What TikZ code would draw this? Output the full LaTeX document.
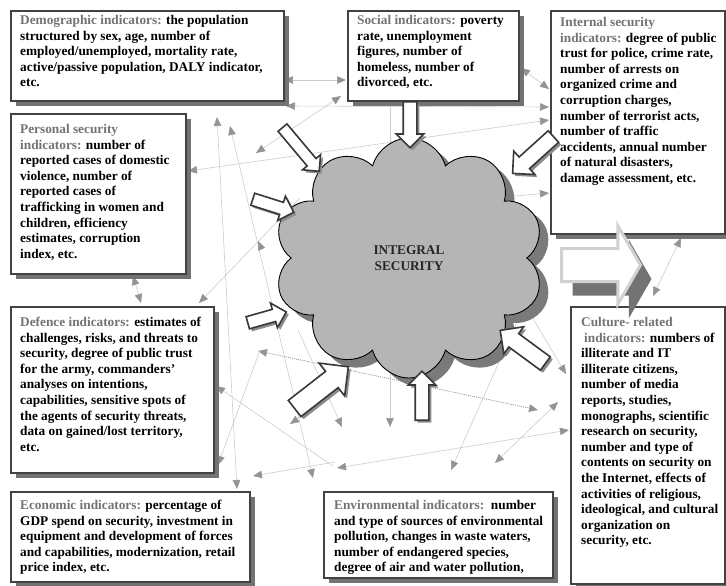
\documentclass[tikz,border=0pt]{standalone}
\usepackage{fontspec}
\setmainfont{Liberation Serif}
\usetikzlibrary{shapes.symbols,shapes.arrows,shadows,arrows.meta}

\definecolor{hdr}{gray}{0.45}
\definecolor{cloudfill}{gray}{0.71}
\definecolor{cloudshade}{gray}{0.48}
\definecolor{webline}{gray}{0.80}
\definecolor{webtip}{gray}{0.58}
\definecolor{frame}{gray}{0.26}
\definecolor{frameshade}{gray}{0.45}
\definecolor{outline}{gray}{0.22}

\newcommand\indhead[1]{{\color{hdr}#1}}

\begin{document}
\begin{tikzpicture}[x=1pt,y=-1pt,
  ibox/.style={draw=frame, line width=2.2pt, fill=white, anchor=north west,
    inner sep=0pt, drop shadow={shadow xshift=4.5pt, shadow yshift=-4.5pt,
    fill=frameshade, opacity=1}},
  itext/.style={anchor=north west, inner sep=0pt, align=left,
    font=\fontsize{13.3}{15.6}\selectfont\bfseries},
  web/.style={draw=webline, line width=0.6pt,
    {Triangle[length=9pt,width=7.5pt,color=webtip]}-{Triangle[length=9pt,width=7.5pt,color=webtip]}},
  webone/.style={draw=webline, line width=0.6pt,
    -{Triangle[length=9pt,width=7.5pt,color=webtip]}},
  webdot/.style={draw=black!45, line width=0.7pt, dash pattern=on 1pt off 1pt,
    {Triangle[length=9pt,width=7.5pt,color=webtip]}-{Triangle[length=9pt,width=7.5pt,color=webtip]}},
  barrow/.style={single arrow, draw=outline, line width=1.6pt, fill=white,
    inner xsep=0pt, single arrow tip angle=90, anchor=tail,
    drop shadow={shadow xshift=2.5pt, shadow yshift=-2.5pt, fill=black!45, opacity=1}},
]
\useasboundingbox (0,0) rectangle (726,586);

% ---------- end points of the thin connector web ----------
\coordinate (c1a) at (284,80);   \coordinate (c1b) at (346,80);
\coordinate (c2a) at (286,106);  \coordinate (c2b) at (549,107);
\coordinate (c3a) at (256,153);  \coordinate (c3b) at (341,96);
\coordinate (c4a) at (521,68);   \coordinate (c4b) at (549,89);
\coordinate (c5a) at (188,171);  \coordinate (c5b) at (549,120);
\coordinate (c6a) at (217,117);  \coordinate (c6b) at (237,489);
\coordinate (c7a) at (230,126);  \coordinate (c7b) at (313,478);
\coordinate (c8a) at (133,276);  \coordinate (c8b) at (141,303);
\coordinate (c9a) at (300,198);  \coordinate (c9b) at (199,303);
\coordinate (c10a) at (333,466); \coordinate (c10b) at (216,386);
\coordinate (c11a) at (337,468); \coordinate (c11b) at (569,430);
\coordinate (c12a) at (258,351); \coordinate (c12b) at (538,410);
\coordinate (c13a) at (558,402); \coordinate (c13b) at (495,463);
\coordinate (c14a) at (520,315); \coordinate (c14b) at (451,470);
\coordinate (c15a) at (390,101); \coordinate (c15b) at (390,427);
\coordinate (c16a) at (298,330); \coordinate (c16b) at (342,427);
\coordinate (c17a) at (340,390); \coordinate (c17b) at (290,424);
\coordinate (c18a) at (260,350); \coordinate (c18b) at (218,465);
\coordinate (c19a) at (335,462); \coordinate (c19b) at (253,476);
\coordinate (c20a) at (262,250); \coordinate (c20b) at (258,241);
\coordinate (c21a) at (470,200); \coordinate (c21b) at (549,193);
\coordinate (c22a) at (681,238); \coordinate (c22b) at (653,296);
\coordinate (c23a) at (522,300); \coordinate (c23b) at (566,374);

\draw[web] (c1a) -- (c1b);
\draw[web] (c2a) -- (c2b);
\draw[web] (c3a) -- (c3b);
\draw[web] (c4a) -- (c4b);
\draw[web] (c5a) -- (c5b);
\draw[web] (c6a) -- (c6b);
\draw[web] (c7a) -- (c7b);
\draw[web] (c8a) -- (c8b);
\draw[webone] (c9a) -- (c9b);
\draw[webone] (c10a) -- (c10b);
\draw[web] (c11a) -- (c11b);
\draw[webdot] (c12a) -- (c12b);
\draw[web] (c13a) -- (c13b);
\draw[webone] (c14a) -- (c14b);
\draw[webone] (c15a) -- (c15b);
\draw[webone] (c16a) -- (c16b);
\draw[webone] (c17a) -- (c17b);
\draw[webone] (c18a) -- (c18b);
\draw[webone] (c19a) -- (c19b);
\draw[webone] (c20a) -- (c20b);
\draw[webone] (c21a) -- (c21b);
\draw[web] (c22a) -- (c22b);
\draw[webone] (c23a) -- (c23b);

% ---------- indicator boxes ----------
\node[ibox, minimum width=273pt, minimum height=90pt]  (demo)     at (10,10)   {};
\node[ibox, minimum width=171pt, minimum height=90pt]  (social)   at (347,10)  {};
\node[ibox, minimum width=174pt, minimum height=223pt] (internal) at (550,10)  {};
\node[ibox, minimum width=175pt, minimum height=160pt] (personal) at (10,113)  {};
\node[ibox, minimum width=203pt, minimum height=166pt] (defence)  at (10,306)  {};
\node[ibox, minimum width=239pt, minimum height=90pt]  (economic) at (10,491)  {};
\node[ibox, minimum width=229pt, minimum height=86pt]  (environ)  at (323,491) {};
\node[ibox, minimum width=154pt, minimum height=277pt] (culture)  at (570,306) {};

\node[itext] (demo-t) at (20,15) {\indhead{Demographic indicators:} the population\\
structured by sex, age, number of\\
employed/unemployed, mortality rate,\\
active/passive population, DALY indicator,\\
etc.};

\node[itext] (social-t) at (357,15) {\indhead{Social indicators:} poverty\\
rate, unemployment\\
figures, number of\\
homeless, number of\\
divorced, etc.};

\node[itext] (internal-t) at (560,17) {\indhead{Internal security}\\
\indhead{indicators:} degree of public\\
trust for police, crime rate,\\
number of arrests on\\
organized crime and\\
corruption charges,\\
number of terrorist acts,\\
number of traffic\\
accidents, annual number\\
of natural disasters,\\
damage assessment, etc.};

\node[itext] (personal-t) at (20,124) {\indhead{Personal security}\\
\indhead{indicators:} number of\\
reported cases of domestic\\
violence, number of\\
reported cases of\\
trafficking in women and\\
children, efficiency\\
estimates, corruption\\
index, etc.};

\node[itext] (defence-t) at (20,317) {\indhead{Defence indicators:} estimates of\\
challenges, risks, and threats to\\
security, degree of public trust\\
for the army, commanders'\\
analyses on intentions,\\
capabilities, sensitive spots of\\
the agents of security threats,\\
data on gained/lost territory,\\
etc.};

\node[itext] (economic-t) at (20,500) {\indhead{Economic indicators:} percentage of\\
GDP spend on security, investment in\\
equipment and development of forces\\
and capabilities, modernization, retail\\
price index, etc.};

\node[itext] (environ-t) at (334,500) {\indhead{Environmental indicators:}\ \ number\\
and type of sources of environmental\\
pollution, changes in waste waters,\\
number of endangered species,\\
degree of air and water pollution,};

\node[itext] (culture-t) at (581,317) {\indhead{Culture- related}\\
\hspace{3pt}\indhead{indicators:} numbers of\\
illiterate and IT\\
illiterate citizens,\\
number of media\\
reports, studies,\\
monographs, scientific\\
research on security,\\
number and type of\\
contents on security on\\
the Internet, effects of\\
activities of religious,\\
ideological, and cultural\\
organization on\\
security, etc.};

% ---------- central cloud ----------
\node[cloud, cloud puffs=10, cloud puff arc=150, aspect=1.12,
  minimum width=270pt, minimum height=240pt, inner sep=0pt,
  fill=cloudfill, draw=black, line width=0.9pt,
  drop shadow={shadow xshift=9pt, shadow yshift=-8pt, fill=cloudshade, opacity=1},
  align=center, font=\fontsize{13.3}{15.6}\selectfont\bfseries, text=black!85]
  (core) at (409,258) {INTEGRAL\\SECURITY};

% ---------- block arrows pointing at the cloud ----------
\node[barrow, inner ysep=6pt, single arrow head extend=7pt, minimum height=46pt, rotate=-90]
  (a1) at (410,101) {};
\node[barrow, inner ysep=5pt, single arrow head extend=6pt, minimum height=57pt, rotate=-50]
  (a2) at (282,127) {};
\node[barrow, inner ysep=5.5pt, single arrow head extend=6.5pt, minimum height=43pt, rotate=-17.6]
  (a3) at (252,199) {};
\node[barrow, inner ysep=5.5pt, single arrow head extend=6.5pt, minimum height=40pt, rotate=15.7]
  (a4) at (247,323) {};
\node[barrow, inner ysep=9.5pt, single arrow head extend=10.5pt, minimum height=68pt, rotate=37.9]
  (a5) at (294,409) {};
\node[barrow, inner ysep=6pt, single arrow head extend=7pt, minimum height=49pt, rotate=90]
  (a6) at (422,421) {};
\node[barrow, inner ysep=7.5pt, single arrow head extend=8.5pt, minimum height=56pt, rotate=143.7]
  (a7) at (546,364) {};
\node[barrow, inner ysep=7pt, single arrow head extend=8pt, minimum height=55pt, rotate=-137.9]
  (a8) at (554,136) {};

% ---------- outgoing arrow ----------
\node[single arrow, anchor=tail, draw=black!18, line width=3pt, fill=white,
  inner xsep=0pt, inner ysep=15pt, single arrow head extend=22.5pt,
  single arrow tip angle=120, minimum height=79pt,
  drop shadow={shadow xshift=11pt, shadow yshift=-14pt, fill=black!55, opacity=1}]
  (out) at (560,265) {};

\end{tikzpicture}
\end{document}
